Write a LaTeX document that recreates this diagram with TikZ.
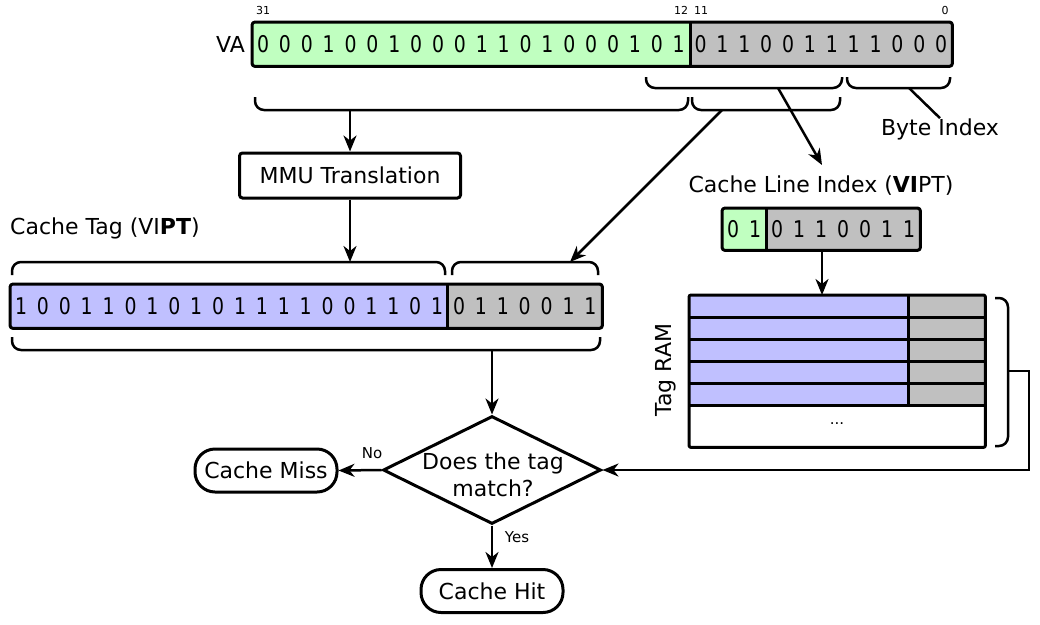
\documentclass[tikz,border=0pt]{standalone}
\usepackage{fontspec}
\setmainfont{DejaVu Sans}
\newfontfamily\bitfont[FakeStretch=0.82]{DejaVu Sans}
\usetikzlibrary{arrows.meta,shapes.geometric,calc}
\definecolor{vagreen}{RGB}{192,255,192}
\definecolor{bitgray}{RGB}{192,192,192}
\definecolor{tagblue}{RGB}{192,192,255}
\begin{document}
\begin{tikzpicture}[x=1pt,y=-1pt,
  lbl/.style={font=\fontsize{22}{26}\selectfont, inner sep=0pt},
  small/.style={font=\fontsize{15}{17}\selectfont, inner sep=0pt},
  tiny/.style={font=\fontsize{11}{13}\selectfont, inner sep=0pt},
  bitc/.style={font=\bitfont\fontsize{23}{26}\selectfont, inner sep=0pt},
  part/.style={inner sep=0pt, anchor=north west, draw=none},
  boxline/.style={line width=3pt, line join=round},
  brc/.style={line width=2.5pt, rounded corners=9pt},
  arr/.style={line width=2.5pt, -{Stealth[length=16pt,width=13pt,inset=5pt]}},
  plain/.style={line width=2.5pt},
  procbox/.style={draw, line width=3pt, rounded corners=3pt, minimum width=221pt, minimum height=45pt, font=\fontsize{22}{26}\selectfont},
  termbox/.style={draw, line width=3pt, rounded corners=20pt, minimum width=142pt, minimum height=43pt, font=\fontsize{22}{26}\selectfont},
]
\useasboundingbox (0,0) rectangle (1040,624);

% ---------- VA ----------
\node[part, fill=vagreen, minimum width=438pt, minimum height=44pt] (vaHi) at (252,22) {};
\node[part, fill=bitgray, minimum width=262pt, minimum height=44pt] (vaLo) at (690,22) {};
\draw[boxline, rounded corners=3pt] (vaHi.north west) rectangle (vaLo.south east);
\draw[boxline] (vaHi.north east) -- (vaHi.south east);
\foreach \b [count=\k from 0] in {0,0,0,1,0,0,1,0,0,0,1,1,0,1,0,0,0,1,0,1,0,1,1,0,0,1,1,1,1,0,0,0}
  \node[bitc] (va\k) at (263+21.875*\k,44) {\b};
\node[lbl, anchor=east] (valbl) at (245,44) {VA};
\node[tiny] (n31) at (263,10) {31};
\node[tiny] (n12) at (681,10) {12};
\node[tiny] (n11) at (701,10) {11};
\node[tiny] (n0) at (945,10) {0};

% braces under VA
\draw[brc] (646,77) |- (744,88) -| (842,77);
\coordinate (cliBr) at (778,88);
\draw[brc] (847,77) |- (898,88) -| (950,77);
\coordinate (byteBr) at (909,88);
\draw[brc] (255,97) |- (470,110) -| (688,97);
\coordinate (hiBr) at (350,110);
\draw[brc] (692,97) |- (766,110) -| (840,97);
\coordinate (midBr) at (722,110);

\node[lbl] (byteLbl) at (940,129) {Byte Index};
\draw[plain] (byteBr) -- (byteLbl.north);

% ---------- MMU ----------
\node[procbox] (mmu) at (350,175.5) {MMU Translation};
\draw[arr] (hiBr) -- (hiBr |- mmu.north);

% ---------- Cache Tag ----------
\node[lbl, anchor=west] (tagLbl) at (10,228) {Cache Tag (VI\textbf{PT})};
\draw[brc] (12,275) |- (230,262) -| (445,275);
\coordinate (tagBrL) at (350,262);
\draw[brc] (452,275) |- (525,262) -| (598,275);
\coordinate (tagBrR) at (570,262);
\draw[arr] (mmu.south) -- (mmu.south |- tagBrL);
\draw[arr] (midBr) -- (tagBrR);

\node[part, fill=tagblue, minimum width=437pt, minimum height=44pt] (tagHi) at (10,284) {};
\node[part, fill=bitgray, minimum width=155pt, minimum height=44pt] (tagLo) at (447,284) {};
\draw[boxline, rounded corners=3pt] (tagHi.north west) rectangle (tagLo.south east);
\draw[boxline] (tagHi.north east) -- (tagHi.south east);
\foreach \b [count=\k from 0] in {1,0,0,1,1,0,1,0,1,0,1,1,1,1,0,0,1,1,0,1,0,1,1,0,0,1,1}
  \node[bitc] (tag\k) at (21+21.9*\k,306) {\b};

\draw[brc] (12,337) |- (300,350) -| (600,337);
\coordinate (tagBrB) at (492,350);

% ---------- Cache Line Index ----------
\node[lbl] (cliLbl) at (821,186) {Cache Line Index (\textbf{VI}PT)};
\draw[arr] (cliBr) -- (822,165);
\node[part, fill=vagreen, minimum width=44pt, minimum height=42pt] (cliHi) at (722,208) {};
\node[part, fill=bitgray, minimum width=154pt, minimum height=42pt] (cliLo) at (766,208) {};
\draw[boxline, rounded corners=3pt] (cliHi.north west) rectangle (cliLo.south east);
\draw[boxline] (cliHi.north east) -- (cliHi.south east);
\foreach \b [count=\k from 0] in {0,1,0,1,1,0,0,1,1}
  \node[bitc] (cli\k) at (733+22*\k,229) {\b};
\coordinate (cliBot) at (822,250);

% ---------- Tag RAM ----------
\node[part, draw=none, minimum width=296pt, minimum height=152pt] (ram) at (689,295) {};
\foreach \r in {0,...,4} {
  \fill[tagblue] (689,295+22*\r) rectangle (908,317+22*\r);
  \fill[bitgray] (908,295+22*\r) rectangle (985,317+22*\r);
}
\draw[boxline, rounded corners=2pt] (ram.north west) rectangle (ram.south east);
\foreach \r in {1,...,5} \draw[boxline] (689,295+22*\r) -- (985,295+22*\r);
\draw[boxline] (908,295) -- (908,405);
\node[small] (dots) at (837,424) {...};
\node[lbl, rotate=90] (ramLbl) at (666,370) {Tag RAM};
\draw[arr] (cliBot) -- (cliBot |- ram.north);

\draw[brc] (995,298) -| (1008,372) |- (995,446);
\coordinate (ramBr) at (1008,371);

% ---------- Decision ----------
\node[diamond, draw, line width=3pt, minimum width=218pt, minimum height=108pt, inner sep=0pt] (dec) at (492,470) {};
\node[lbl, align=center, font=\fontsize{22}{27}\selectfont] (decTxt) at (493,475) {Does the tag\\match?};
\draw[arr] (tagBrB) -- (dec.north);
\draw[arr] (ramBr) -- ++(21,0) |- (dec.east);

\node[termbox] (miss) at (266,470.5) {Cache Miss};
\node[termbox] (hit) at (492,591) {Cache Hit};
\draw[arr] (dec.west) -- (miss.east);
\draw[arr] (dec.south) -- (hit.north);
\node[small] (noLbl) at (372,453) {No};
\node[small] (yesLbl) at (517,537) {Yes};
\end{tikzpicture}
\end{document}
